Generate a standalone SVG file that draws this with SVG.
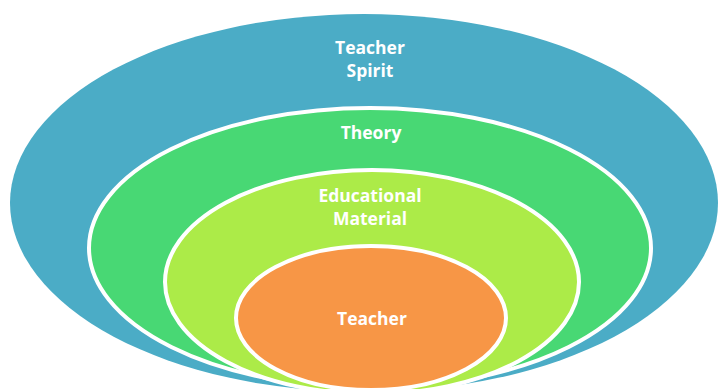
<svg xmlns="http://www.w3.org/2000/svg" width="718" height="389" viewBox="0 0 718 389">
<style>
.l{fill:#fff;font-family:"Open Sans","Liberation Sans",sans-serif;font-weight:bold;font-size:17.5px;text-anchor:middle}
.r{stroke:#fff;stroke-width:4}
</style>
<rect width="718" height="389" fill="#fff"/>
<g id="spirit">
<ellipse cx="364" cy="203" rx="354" ry="189" fill="#4bacc6"/>
<text class="l" x="370" y="54">Teacher</text>
<text class="l" x="370" y="77">Spirit</text>
</g>
<g id="theory">
<ellipse class="r" cx="370" cy="248" rx="281" ry="140" fill="#48d874"/>
<text class="l" x="371" y="139">Theory</text>
</g>
<g id="material">
<ellipse class="r" cx="372" cy="282" rx="207" ry="112" fill="#aceb48"/>
<text class="l" x="370" y="202">Educational</text>
<text class="l" x="370" y="225">Material</text>
</g>
<g id="teacher">
<ellipse class="r" cx="371" cy="318" rx="135" ry="72" fill="#f79646"/>
<text class="l" x="372" y="325">Teacher</text>
</g>
<g id="connectors"/>
</svg>
